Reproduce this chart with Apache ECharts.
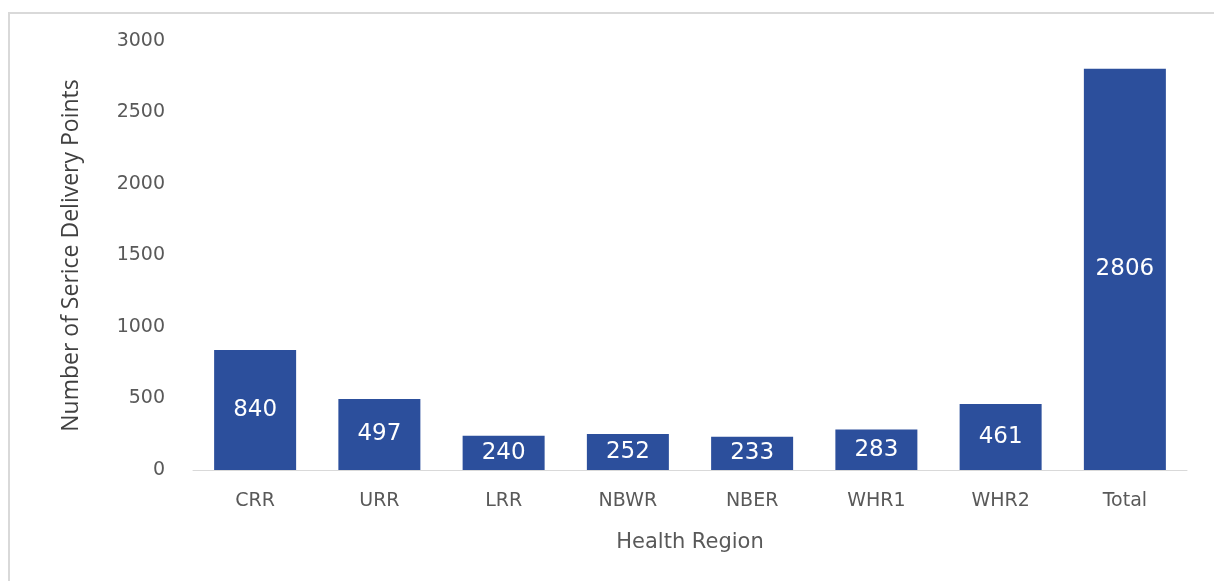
<!DOCTYPE html>
<html>
<head>
<meta charset="utf-8">
<script src="https://cdn.jsdelivr.net/npm/echarts@6/dist/echarts.min.js"></script>
<style>
  html, body { margin: 0; padding: 0; background: #fff; }
  #main { width: 1214px; height: 581px; }
</style>
</head>
<body>
<div id="main"></div>
<script>
var regions = ['CRR', 'URR', 'LRR', 'NBWR', 'NBER', 'WHR1', 'WHR2', 'Total'];
var points = [840, 497, 240, 252, 233, 283, 461, 2806];
var yTicks = [0, 500, 1000, 1500, 2000, 2500, 3000];

var chart = echarts.init(document.getElementById('main'));

var option = {
  backgroundColor: '#fff',
  graphic: [{
    type: 'rect',
    shape: { x: 9, y: 13, width: 1210, height: 580 },
    style: { fill: 'none', stroke: '#d9d9d9', lineWidth: 2 }
  }],
  grid: { left: 193, right: 27, top: 41, bottom: 111 },
  xAxis: {
    type: 'category',
    data: regions,
    name: 'Health Region',
    nameLocation: 'middle',
    nameGap: 62,
    nameTextStyle: { color: '#595959', fontSize: 21, fontFamily: 'DejaVu Sans' },
    axisLine: { lineStyle: { color: '#d9d9d9' } },
    axisTick: { show: false },
    axisLabel: { color: '#595959', fontSize: 19, margin: 22, fontFamily: 'DejaVu Sans' }
  },
  yAxis: {
    type: 'value',
    min: yTicks[0],
    max: yTicks[yTicks.length - 1],
    interval: 500,
    name: 'Number of Serice Delivery Points',
    nameLocation: 'middle',
    nameGap: 110,
    nameTextStyle: { color: '#404040', fontSize: 23, fontFamily: 'Open Sans' },
    axisLine: { show: false },
    axisTick: { show: false },
    splitLine: { show: false },
    axisLabel: {
      color: '#595959', fontSize: 19, margin: 28, fontFamily: 'DejaVu Sans',
      formatter: function (v) { return String(v); }
    }
  },
  series: [{
    type: 'bar',
    data: points,
    barWidth: '66%',
    itemStyle: { color: '#2c4f9c' },
    label: {
      show: true,
      position: 'inside',
      color: '#fff',
      fontSize: 23,
      fontFamily: 'DejaVu Sans'
    }
  }]
};

chart.setOption(option);
</script>
</body>
</html>
